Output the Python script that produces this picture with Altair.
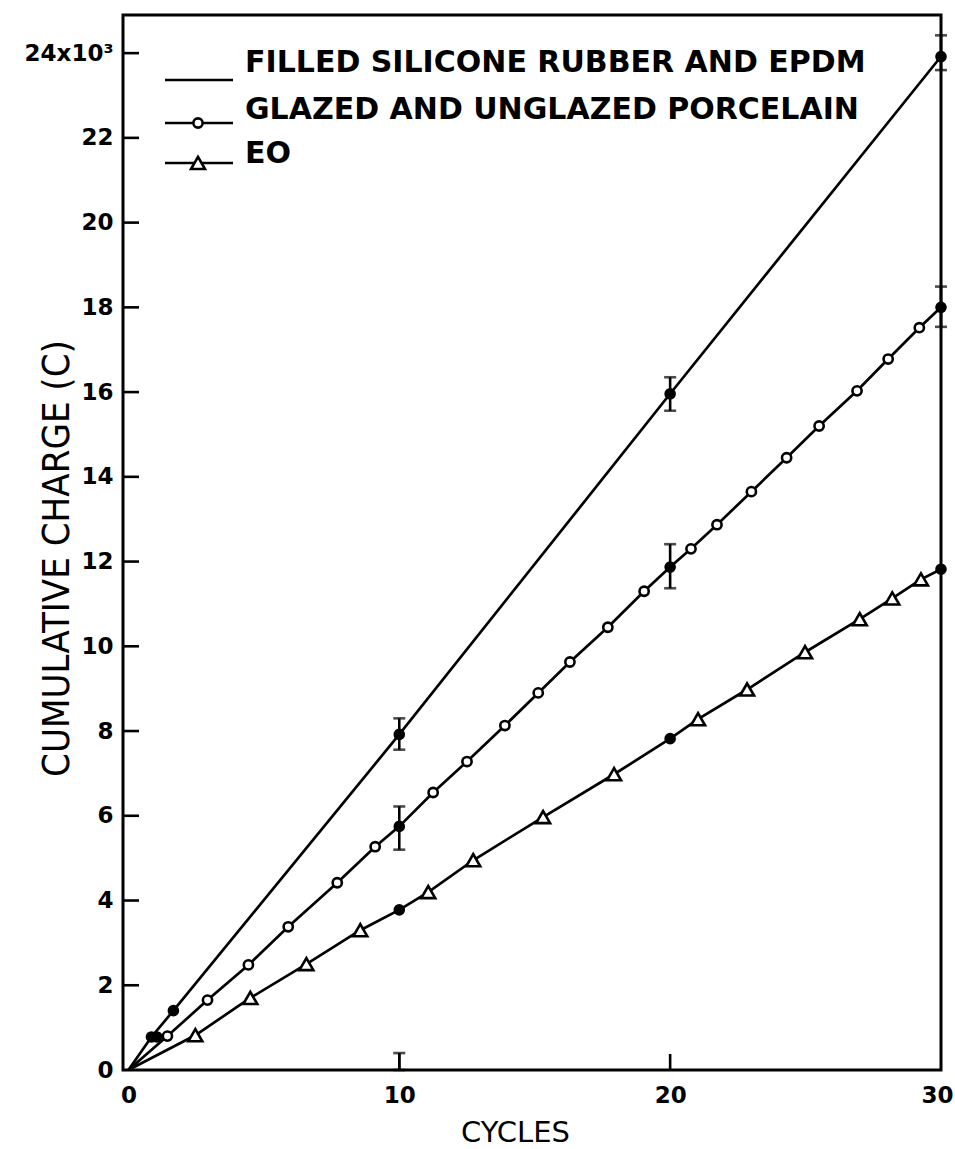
import altair as alt
import pandas as pd

# Filled silicone rubber and EPDM (solid line, filled points)
sil_x = [0, 0.85, 1.66, 10, 20, 30]
sil_y = [0, 0.78, 1.40, 7.92, 15.96, 23.92]

# Glazed and unglazed porcelain: open circles and filled averages
por_open_x = [1.44, 2.92, 4.43, 5.90, 7.71, 9.11, 11.25, 12.50, 13.90, 15.13, 16.30,
              17.70, 19.04, 20.77, 21.73, 23.00, 24.30, 25.50, 26.90, 28.05, 29.20]
por_open_y = [0.80, 1.65, 2.48, 3.38, 4.42, 5.27, 6.55, 7.28, 8.13, 8.90, 9.63,
              10.45, 11.30, 12.30, 12.87, 13.65, 14.45, 15.20, 16.03, 16.78, 17.52]
por_fill_x = [1.05, 10, 20, 30]
por_fill_y = [0.78, 5.75, 11.87, 18.00]

# EO: triangles and filled averages
eo_open_x = [2.47, 4.50, 6.57, 8.56, 11.07, 12.73, 15.31, 17.93, 21.03, 22.84, 24.98, 27.00, 28.20, 29.26]
eo_open_y = [0.82, 1.70, 2.50, 3.30, 4.20, 4.95, 5.97, 6.98, 8.28, 8.98, 9.86, 10.64, 11.13, 11.58]
eo_fill_x = [10, 20, 30]
eo_fill_y = [3.78, 7.82, 11.82]

# Scatter bands at the averaged cycles
err_x = [10, 20, 30, 10, 20, 30, 10]
err_lo = [7.56, 15.56, 23.60, 5.20, 11.37, 17.54, 0.00]
err_hi = [8.30, 16.35, 24.42, 6.22, 12.41, 18.49, 0.40]

y_ticks = [2, 4, 6, 8, 10, 12, 14, 16, 18, 20, 22, 24]
x_ticks = [10, 20]

series_names = ["FILLED SILICONE RUBBER AND EPDM", "GLAZED AND UNGLAZED PORCELAIN", "EO"]

W, H = 818, 1055
FONT = "DejaVu Sans"

# ---- tables -------------------------------------------------------------
def line_table(name, xs, ys):
    pts = sorted(set(zip(xs, ys)))
    if (0, 0) not in pts:
        pts = [(0, 0)] + pts
    return pd.DataFrame({"series": name, "x": [p[0] for p in pts], "y": [p[1] for p in pts]})

lines_df = pd.concat([
    line_table(series_names[0], sil_x, sil_y),
    line_table(series_names[1], por_open_x + por_fill_x[1:], por_open_y + por_fill_y[1:]),
    line_table(series_names[2], eo_open_x + eo_fill_x, eo_open_y + eo_fill_y),
], ignore_index=True)

filled_df = pd.DataFrame({
    "x": sil_x[1:] + por_fill_x + eo_fill_x,
    "y": sil_y[1:] + por_fill_y + eo_fill_y,
})
circ_df = pd.DataFrame({"x": por_open_x, "y": por_open_y})
tri_df = pd.DataFrame({"x": eo_open_x, "y": eo_open_y})
err_df = pd.DataFrame({"x": err_x, "lo": err_lo, "hi": err_hi})
ytick_df = pd.DataFrame({"y": y_ticks})
xtick_df = pd.DataFrame({"x": x_ticks})

# ---- scales & axes ------------------------------------------------------
xscale = alt.Scale(domain=[-0.2, 30], nice=False, zero=False)
yscale = alt.Scale(domain=[0, 24.9], nice=False, zero=False)

xaxis = alt.Axis(
    title="CYCLES", values=[0, 10, 20, 30], ticks=False, domain=False, grid=False,
    labelFont=FONT, labelFontSize=23, labelFontWeight="bold", labelColor="black",
    labelPadding=14, labelFlush=False, labelOverlap=False,
    labelAlign={"condition": {"test": "datum.value == 30", "value": "right"}, "value": "center"},
    labelOffset={"condition": {"test": "datum.value == 30", "value": 12}, "value": 0},
    titleFont=FONT, titleFontSize=29, titleFontWeight="normal", titleColor="black",
    titleX=392, titleY=62, titleAlign="center", titleBaseline="middle",
)
yaxis = alt.Axis(
    title="CUMULATIVE CHARGE (C)", values=[0] + y_ticks, ticks=False, domain=False, grid=False,
    labelFont=FONT, labelFontSize=23, labelFontWeight="bold", labelColor="black",
    labelPadding=10, labelOverlap=False, labelFlush=False,
    labelExpr="datum.value == 24 ? '24x10³' : datum.label",
    titleFont="DejaVu Sans Condensed, Liberation Sans Narrow, Roboto, sans-serif",
    titleFontSize=38, titleFontWeight="normal", titleColor="black",
    titleX=-66, titleY=543, titleAngle=270, titleAlign="center", titleBaseline="middle",
)

X = alt.X("x:Q", scale=xscale, axis=xaxis, title="CYCLES")
Y = alt.Y("y:Q", scale=yscale, axis=yaxis, title="CUMULATIVE CHARGE (C)")

lines = alt.Chart(lines_df).mark_line(color="black", strokeWidth=2.7).encode(
    x=X, y=Y, detail="series:N", order="x:Q"
)

err_rule = alt.Chart(err_df).mark_rule(color="black", strokeWidth=2.6).encode(
    x=X, y=alt.Y("lo:Q", scale=yscale, axis=yaxis, title="CUMULATIVE CHARGE (C)"), y2="hi:Q"
)
cap_hi = alt.Chart(err_df).mark_tick(color="black", orient="horizontal", size=12, thickness=2.6).encode(
    x=X, y=alt.Y("hi:Q", scale=yscale, axis=yaxis, title="CUMULATIVE CHARGE (C)")
)
cap_lo = alt.Chart(err_df).mark_tick(color="black", orient="horizontal", size=12, thickness=2.6).encode(
    x=X, y=alt.Y("lo:Q", scale=yscale, axis=yaxis, title="CUMULATIVE CHARGE (C)")
)

filled = alt.Chart(filled_df).mark_point(
    shape="circle", filled=True, color="black", size=135, opacity=1
).encode(x=X, y=Y)

circles = alt.Chart(circ_df).mark_point(
    shape="circle", filled=True, fill="white", stroke="black", strokeWidth=2.6, size=85, opacity=1
).encode(x=X, y=Y)

triangles = alt.Chart(tri_df).mark_point(
    shape="triangle-up", filled=True, fill="white", stroke="black", strokeWidth=2.6, size=195, opacity=1
).encode(x=X, y=Y)

# inward axis ticks
yticks = alt.Chart(ytick_df).mark_rule(color="black", strokeWidth=2.6).encode(
    y=Y, x=alt.value(0), x2=alt.value(16)
)
xticks = alt.Chart(xtick_df).mark_rule(color="black", strokeWidth=2.6).encode(
    x=X, y=alt.value(H), y2=alt.value(H - 16)
)

# ---- legend -------------------------------------------------------------
def legend_text(label, ty):
    return alt.Chart(pd.DataFrame({"label": [label]})).mark_text(
        align="left", baseline="middle", font=FONT, fontSize=30, fontWeight="bold", color="black"
    ).encode(text="label:N", x=alt.value(122), y=alt.value(ty))

def legend_line(ly):
    return alt.Chart(pd.DataFrame({"label": ["k"]})).mark_rule(color="black", strokeWidth=2.7).encode(
        x=alt.value(42), x2=alt.value(110), y=alt.value(ly)
    )

leg = [
    legend_line(65), legend_text(series_names[0], 48),
    legend_line(108), legend_text(series_names[1], 95),
    alt.Chart(pd.DataFrame({"label": ["k"]})).mark_point(
        shape="circle", filled=True, fill="white", stroke="black", strokeWidth=2.6, size=85, opacity=1
    ).encode(x=alt.value(75), y=alt.value(108)),
    legend_line(148), legend_text(series_names[2], 139),
    alt.Chart(pd.DataFrame({"label": ["k"]})).mark_point(
        shape="triangle-up", filled=True, fill="white", stroke="black", strokeWidth=2.6, size=195, opacity=1
    ).encode(x=alt.value(75), y=alt.value(148)),
]

chart = alt.layer(
    lines, err_rule, cap_hi, cap_lo, filled, circles, triangles, yticks, xticks, *leg
).properties(
    width=W, height=H,
    padding={"left": 123, "top": 15, "right": 14, "bottom": 79},
    autosize=alt.AutoSizeParams(type="none"),
    background="white",
).configure_view(stroke="black", strokeWidth=3)

chart.save("out.html", embed_options={"renderer": "svg", "actions": False})
